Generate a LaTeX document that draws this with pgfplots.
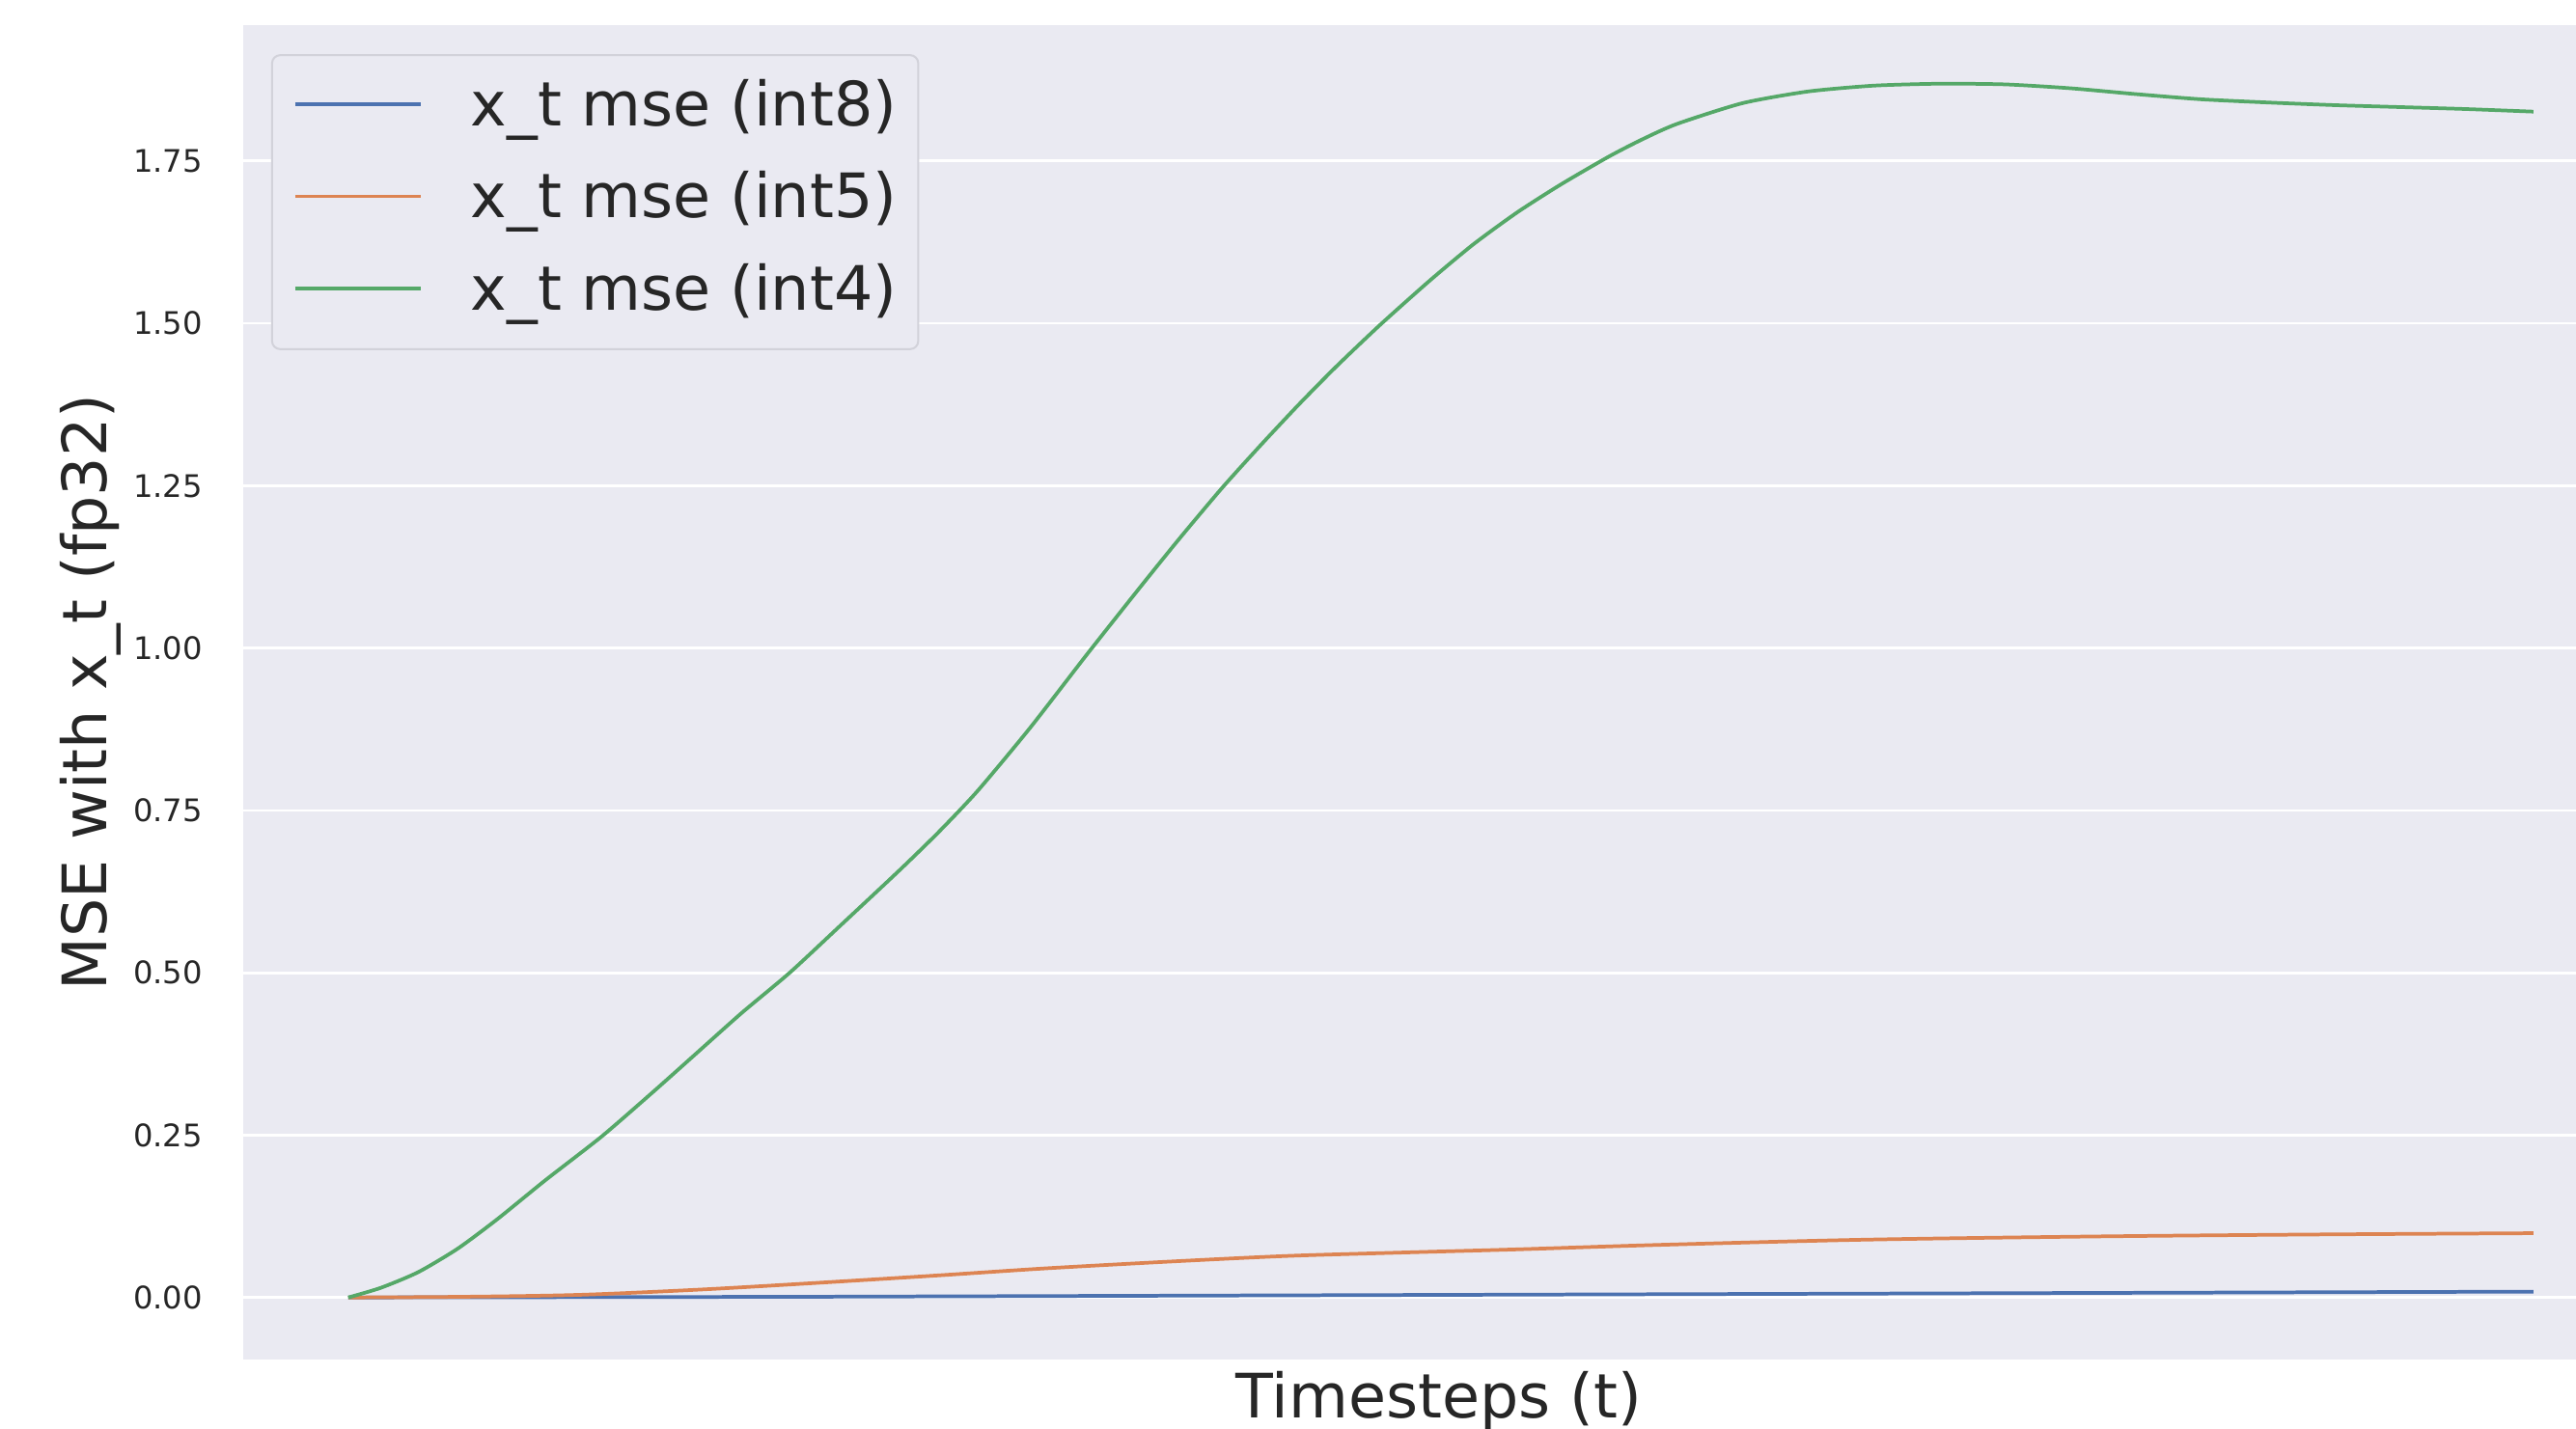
\documentclass[border=0pt]{standalone}
\usepackage{fontspec}
\setmainfont{DejaVu Sans}
\usepackage{pgfplots}
\pgfplotsset{compat=1.18}
\definecolor{bgcol}{HTML}{EAEAF2}
\definecolor{cblue}{HTML}{4C72B0}
\definecolor{corange}{HTML}{DD8452}
\definecolor{cgreen}{HTML}{55A868}
\definecolor{txt}{HTML}{262626}
\definecolor{legedge}{HTML}{D2D2DA}
\begin{document}
\begin{tikzpicture}
\useasboundingbox (0,0) rectangle (784pt,435pt);
\begin{axis}[
  at={(74pt,21pt)}, anchor=south west,
  scale only axis, width=710pt, height=406.5pt,
  xmin=-48.1, xmax=1019.5,
  ymin=-0.0961, ymax=1.960,
  axis background/.style={fill=bgcol},
  axis line style={draw=none},
  xtick=\empty,
  ytick={0,0.25,0.5,0.75,1.0,1.25,1.5,1.75},
  major tick length=0pt,
  ymajorgrids,
  grid style={white, line width=0.8pt},
  /pgf/number format/assume math mode=true,
  yticklabel style={/pgf/number format/.cd, fixed, fixed zerofill, precision=2, /tikz/.cd,
    font=\fontsize{9.45}{11}\selectfont, text=txt, anchor=east, inner sep=0pt, xshift=-12.2pt},
  xlabel={Timesteps (t)},
  xlabel style={at={(axis description cs:0.5127,0)}, anchor=base, yshift=-17.8pt,
    font=\fontsize{18.65}{22}\selectfont, text=txt, inner sep=0pt},
  ylabel={MSE with x\_t (fp32)},
  ylabel style={at={(axis description cs:-0.05845,0.5)}, anchor=base, rotate=0,
    font=\fontsize{18.65}{22}\selectfont, text=txt, inner sep=0pt},
  legend image code/.code={\draw[#1] (0pt,6.55pt) -- (38.25pt,6.55pt); \path[draw=none] (0pt,0pt) -- (53.5pt,0pt);},
  legend style={at={(axis description cs:0.01197,0.97786)}, anchor=north west,
    draw=legedge, fill=bgcol, rounded corners=2.5pt, line width=0.6pt,
    inner xsep=6.5pt, inner ysep=7.5pt, row sep=9.5pt, column sep=0pt,
    font=\fontsize{18.65}{22}\selectfont, text=txt,
    nodes={inner sep=0pt, text height=14pt, text depth=4.5pt},
    cells={anchor=base west}},
]
\addplot[cblue, line width=1.1pt] coordinates {
(0,0) (100,0.0005) (200,0.001) (300,0.002) (400,0.003) (500,0.004) (600,0.005) (700,0.006) (800,0.007) (900,0.008) (1000,0.009)
};
\addlegendentry{x\_t mse (int8)\hspace{2.2pt}}
\addplot[corange, line width=1.1pt, smooth] coordinates {
(0,0) (50,0.001) (105,0.004) (160,0.012) (212,0.022) (270,0.034) (320,0.045) (380,0.056) (430,0.064) (480,0.069) (534,0.074) (600,0.081) (694,0.089) (800,0.094) (900,0.097) (1000,0.099)
};
\addlegendentry{x\_t mse (int5)\hspace{2.2pt}}
\addplot[cgreen, line width=1.1pt, smooth, tension=0.4] coordinates {
(0,0) (15,0.015) (32,0.039) (50,0.075) (68,0.12) (90,0.18) (116,0.248) (140,0.318) (160,0.378) (180,0.438) (202,0.500) (225,0.572) (252,0.657) (270,0.716) (288,0.780) (312,0.877) (338,0.990) (362,1.092) (380,1.167) (400,1.247) (418,1.314) (435,1.375) (452,1.433) (472,1.497) (495,1.566) (515,1.622) (535,1.671) (555,1.714) (577,1.757) (592,1.783) (608,1.807) (638,1.839) (668,1.857) (698,1.866) (728,1.869) (758,1.868) (788,1.862) (818,1.853) (848,1.845) (879,1.840) (909,1.836) (939,1.833) (969,1.830) (1000,1.826)
};
\addlegendentry{x\_t mse (int4)\hspace{2.2pt}}
\end{axis}
\end{tikzpicture}
\end{document}
